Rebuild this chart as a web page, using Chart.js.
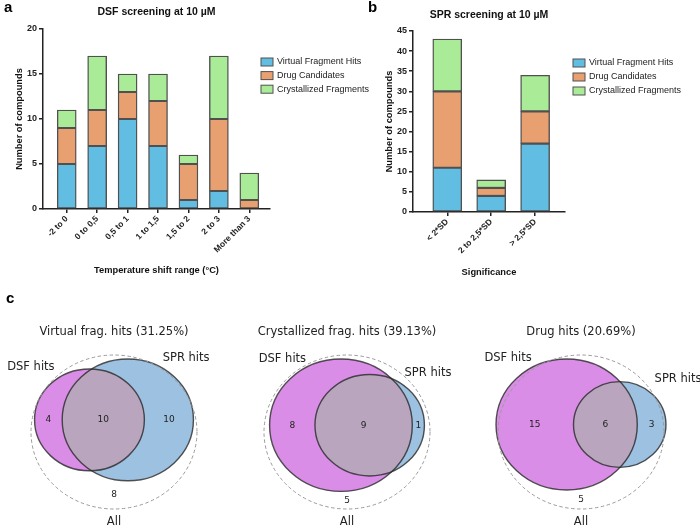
<!DOCTYPE html>
<html>
<head>
<meta charset="utf-8">
<script src="https://cdn.jsdelivr.net/npm/chart.js@4.4.1/dist/chart.umd.min.js"></script>
<style>
  body { margin: 0; background: #fff; }
  #fig { position: relative; width: 700px; height: 528px; overflow: hidden; }
  canvas { position: absolute; }
  .panel { position: absolute; font: bold 15px "Liberation Sans", Arial, sans-serif; color: #000; }
</style>
</head>
<body>
<div id="fig">
  <canvas id="dsfChart" width="380" height="285" style="left:0;top:0;width:380px;height:285px"></canvas>
  <canvas id="sprChart" width="350" height="285" style="left:350px;top:0;width:350px;height:285px"></canvas>
  <canvas id="venn0" width="233" height="238" style="left:0;top:290px;width:233px;height:238px"></canvas>
  <canvas id="venn1" width="233" height="238" style="left:233px;top:290px;width:233px;height:238px"></canvas>
  <canvas id="venn2" width="233" height="238" style="left:467px;top:290px;width:233px;height:238px"></canvas>
  <div class="panel" style="left:4px;top:-2px">a</div>
  <div class="panel" style="left:368px;top:-2px">b</div>
  <div class="panel" style="left:6px;top:289px">c</div>
</div>
<script>
// DSF screening (panel a)
const dsfRanges = ['-2 to 0', '0 to 0,5', '0,5 to 1', '1 to 1,5', '1,5 to 2', '2 to 3', 'More than 3'];
const dsfVirtual = [5, 7, 10, 7, 1, 2, 0];
const dsfDrug = [4, 4, 3, 5, 4, 8, 1];
const dsfCryst = [2, 6, 2, 3, 1, 7, 3];

// SPR screening (panel b)
const sprLevels = ['< 2*SD', '2 to 2,5*SD', '> 2,5*SD'];
const sprVirtual = [11, 4, 17];
const sprDrug = [19, 2, 8];
const sprCryst = [13, 2, 9];

const seriesNames = ['Virtual Fragment Hits', 'Drug Candidates', 'Crystallized Fragments'];

// Venn diagrams (panel c): region counts
const vennNames = ['Virtual frag. hits', 'Crystallized frag. hits', 'Drug hits'];
const vennDsfOnly = [4, 8, 15];
const vennBoth = [10, 9, 6];
const vennSprOnly = [10, 1, 3];
const vennNeither = [8, 5, 5];

const COLORS = ['#62BDE3', '#E9A070', '#AAEB98'];
const EDGE = '#505050';
const SANS = '"Liberation Sans", Arial, sans-serif';
const MPL = '"DejaVu Sans", sans-serif';

Chart.defaults.font.family = SANS;
Chart.defaults.color = '#222';

const boxLegend = {
  id: 'boxLegend',
  afterDraw(chart, args, opts) {
    const ctx = chart.ctx;
    ctx.save();
    ctx.font = '9px ' + SANS;
    ctx.textBaseline = 'middle';
    chart.data.datasets.forEach((ds, k) => {
      const y = opts.y + k * opts.step;
      ctx.fillStyle = ds.backgroundColor;
      ctx.fillRect(opts.x, y - 4, 12, 8);
      ctx.strokeStyle = EDGE;
      ctx.lineWidth = 1;
      ctx.strokeRect(opts.x, y - 4, 12, 8);
      ctx.fillStyle = '#222';
      ctx.fillText(ds.label, opts.x + 16, y);
    });
    ctx.restore();
  }
};

function stackedBars(canvasId, labels, series, cfg) {
  const datasets = series.map((vals, k) => ({
    label: seriesNames[k],
    data: vals.map((v, i) => ({ x: i, y: v })),
    backgroundColor: COLORS[k],
    borderColor: EDGE,
    borderWidth: 1.4,
    borderSkipped: false,
    barThickness: cfg.barWidth
  }));
  const axisLine = { display: true, color: '#222', width: 1.5 };
  return new Chart(document.getElementById(canvasId), {
    type: 'bar',
    data: { datasets },
    options: {
      responsive: false,
      animation: false,
      layout: { padding: { left: 0, right: cfg.padRight, top: 0, bottom: 0 } },
      plugins: {
        legend: { display: false },
        tooltip: { enabled: false },
        title: {
          display: true,
          text: cfg.title,
          fullSize: false,
          color: '#111',
          font: { size: 10.5, weight: 'bold' },
          padding: { top: cfg.titleTop, bottom: cfg.titleBottom }
        },
        boxLegend: cfg.legend
      },
      scales: {
        x: {
          type: 'linear',
          stacked: true,
          offset: false,
          min: -0.78,
          max: labels.length - 1 + 0.68,
          afterBuildTicks: s => { s.ticks = labels.map((_, i) => ({ value: i })); },
          afterFit: s => { s.height = cfg.xHeight; },
          ticks: {
            autoSkip: false,
            minRotation: 45,
            maxRotation: 45,
            padding: 1,
            font: { size: 8.5, weight: 'bold' },
            color: '#222',
            callback: v => labels[v]
          },
          grid: { offset: false, drawOnChartArea: false, drawTicks: true, tickLength: 4, color: '#222', lineWidth: 1.5 },
          border: axisLine,
          title: {
            display: true,
            text: cfg.xTitle,
            font: { size: 9.3, weight: 'bold' },
            color: '#111',
            padding: { top: 0, bottom: cfg.xTitlePad }
          }
        },
        y: {
          stacked: true,
          min: 0,
          max: cfg.yMax,
          afterFit: s => { s.width = cfg.yWidth; },
          ticks: { stepSize: 5, padding: 2, font: { size: 9, weight: 'bold' }, color: '#222' },
          grid: { drawOnChartArea: false, drawTicks: true, tickLength: 4, color: '#222', lineWidth: 1.5 },
          border: axisLine,
          title: {
            display: true,
            text: 'Number of compounds',
            font: { size: 9.3, weight: 'bold' },
            color: '#111',
            padding: { top: cfg.yTitlePad, bottom: 0 }
          }
        }
      }
    },
    plugins: [boxLegend]
  });
}

stackedBars('dsfChart', dsfRanges, [dsfVirtual, dsfDrug, dsfCryst], {
  title: 'DSF screening at 10 µM',
  xTitle: 'Temperature shift range (°C)',
  yMax: 20, barWidth: 19, padRight: 110,
  yWidth: 43, xHeight: 76, titleTop: 6, titleBottom: 10.4,
  xTitlePad: 9.4, yTitlePad: 14,
  legend: { x: 261, y: 62, step: 13.6 }
});

stackedBars('sprChart', sprLevels, [sprVirtual, sprDrug, sprCryst], {
  title: 'SPR screening at 10 µM',
  xTitle: 'Significance',
  yMax: 45, barWidth: 29, padRight: 135,
  yWidth: 63, xHeight: 73, titleTop: 8.7, titleBottom: 9.7,
  xTitlePad: 7.4, yTitlePad: 34,
  legend: { x: 223, y: 63, step: 14 }
});

// ---- Venn diagrams: area-proportional circles ----
function overlapArea(r1, r2, d) {
  if (d >= r1 + r2) return 0;
  if (d <= Math.abs(r1 - r2)) return Math.PI * Math.min(r1, r2) ** 2;
  const a = r1 * r1 * Math.acos((d * d + r1 * r1 - r2 * r2) / (2 * d * r1));
  const b = r2 * r2 * Math.acos((d * d + r2 * r2 - r1 * r1) / (2 * d * r2));
  const c = 0.5 * Math.sqrt((-d + r1 + r2) * (d + r1 - r2) * (d - r1 + r2) * (d + r1 + r2));
  return a + b - c;
}

function centreDistance(r1, r2, target) {
  let lo = Math.abs(r1 - r2), hi = r1 + r2;
  for (let k = 0; k < 60; k++) {
    const mid = (lo + hi) / 2;
    if (overlapArea(r1, r2, mid) > target) lo = mid; else hi = mid;
  }
  return (lo + hi) / 2;
}

const vennDraw = {
  id: 'vennDraw',
  afterDraw(chart, args, g) {
    const { ctx } = chart;
    const xs = chart.scales.x, ys = chart.scales.y;
    const px = v => xs.getPixelForValue(v);
    const py = v => ys.getPixelForValue(v);
    const rx = r => px(r) - px(0);
    const ry = r => py(0) - py(r);
    const ellipse = (cx, cy, r) => {
      ctx.beginPath();
      ctx.ellipse(px(cx), py(cy), rx(r), ry(r), 0, 0, Math.PI * 2);
    };

    ctx.save();
    // sets
    ellipse(g.x1, g.cy, g.r1); ctx.fillStyle = '#DA8DE6'; ctx.fill();
    ellipse(g.x2, g.cy, g.r2); ctx.fillStyle = '#9DC1E1'; ctx.fill();
    ctx.save();
    ellipse(g.x1, g.cy, g.r1); ctx.clip();
    ellipse(g.x2, g.cy, g.r2); ctx.fillStyle = '#B9A6BE'; ctx.fill();
    ctx.restore();
    ctx.strokeStyle = 'rgba(40,40,40,0.8)';
    ctx.lineWidth = 1.4;
    ellipse(g.x1, g.cy, g.r1); ctx.stroke();
    ellipse(g.x2, g.cy, g.r2); ctx.stroke();
    // universe
    ctx.setLineDash([3.5, 2.5]);
    ctx.strokeStyle = '#9a9a9a';
    ctx.lineWidth = 1;
    ellipse(0, 0, g.rA); ctx.stroke();
    ctx.setLineDash([]);

    // region counts
    ctx.fillStyle = '#222';
    ctx.textAlign = 'center';
    ctx.textBaseline = 'middle';
    ctx.font = '9px ' + MPL;
    const midY = py(g.cy);
    ctx.fillText(g.dsfOnly, (px(g.x1 - g.r1) + px(g.x2 - g.r2)) / 2, midY);
    ctx.fillText(g.both, (px(g.x2 - g.r2) + px(g.x1 + g.r1)) / 2, midY);
    ctx.fillText(g.sprOnly, (px(g.x1 + g.r1) + px(g.x2 + g.r2)) / 2, midY);
    const lowest = g.cy - Math.max(g.r1, g.r2);
    ctx.fillText(g.neither, px(0), (py(lowest) + py(-g.rA)) / 2);

    // labels
    ctx.font = '11.5px ' + MPL;
    ctx.fillText(g.title, px(0), py(g.rA) - 23);
    ctx.textBaseline = 'bottom';
    ctx.textAlign = 'right';
    ctx.fillText('DSF hits', px(g.x1 - 0.42 * g.rA), py(g.cy + 0.92 * g.r1));
    ctx.textAlign = 'left';
    ctx.fillText('SPR hits', px(g.x2 + 0.42 * g.rA), py(g.cy + 0.92 * g.r2));
    ctx.textAlign = 'center';
    ctx.textBaseline = 'top';
    ctx.fillText('All', px(0), py(-1.1 * g.rA));
    ctx.restore();
  }
};

function vennChart(canvasId, i) {
  const dsf = vennDsfOnly[i] + vennBoth[i];
  const spr = vennSprOnly[i] + vennBoth[i];
  const total = vennDsfOnly[i] + vennBoth[i] + vennSprOnly[i] + vennNeither[i];
  const r1 = Math.sqrt(dsf / Math.PI);
  const r2 = Math.sqrt(spr / Math.PI);
  const rA = Math.sqrt(total / Math.PI);
  const d = centreDistance(r1, r2, vennBoth[i]);
  const kx = 83 / rA, ky = 77 / rA;           // pixels per unit
  const x1 = -(d + r2 - r1) / 2, x2 = x1 + d;
  const cy = rA - 4 / ky - Math.max(r1, r2);
  const W = 233, H = 238, ox = 114, oy = 142;
  const pct = (100 * vennBoth[i] / total).toFixed(2);

  return new Chart(document.getElementById(canvasId), {
    type: 'scatter',
    data: {
      datasets: [
        { label: 'DSF hits', data: [{ x: x1, y: cy }], pointRadius: 0 },
        { label: 'SPR hits', data: [{ x: x2, y: cy }], pointRadius: 0 },
        { label: 'All', data: [{ x: 0, y: 0 }], pointRadius: 0 }
      ]
    },
    options: {
      responsive: false,
      animation: false,
      layout: { padding: 0 },
      plugins: {
        legend: { display: false },
        tooltip: { enabled: false },
        vennDraw: {
          x1, x2, cy, r1, r2, rA,
          dsfOnly: vennDsfOnly[i], both: vennBoth[i], sprOnly: vennSprOnly[i], neither: vennNeither[i],
          title: vennNames[i] + ' (' + pct + '%)'
        }
      },
      scales: {
        x: { type: 'linear', display: false, min: -ox / kx, max: (W - ox) / kx },
        y: { type: 'linear', display: false, min: -(H - oy) / ky, max: oy / ky }
      }
    },
    plugins: [vennDraw]
  });
}

vennChart('venn0', 0);
vennChart('venn1', 1);
vennChart('venn2', 2);
</script>
</body>
</html>
